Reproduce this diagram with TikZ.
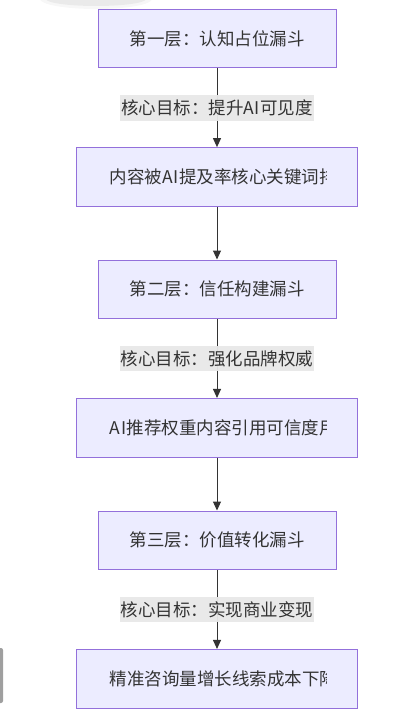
\documentclass[tikz,border=0pt]{standalone}
\usepackage{fontspec}
\setmainfont{Noto Sans CJK SC}
\usetikzlibrary{arrows.meta}
\definecolor{boxfill}{HTML}{ECECFF}
\definecolor{boxline}{HTML}{9370DB}
\definecolor{txt}{HTML}{333333}
\definecolor{lblbg}{HTML}{E8E8E8}
\newcommand{\ai}{A\kern0.6pt I\kern0.6pt}
\tikzset{
  basefont/.style={font=\fontsize{17.5}{20}\selectfont},
  stepbox/.style={draw=boxline, fill=boxfill, line width=1pt, minimum height=58.7pt, inner sep=0pt, text=txt, basefont},
  narrowbox/.style={stepbox, minimum width=238pt},
  widebox/.style={stepbox, minimum width=281pt},
  cliptext/.style={anchor=west, inner sep=0pt, text=txt, basefont},
  flow/.style={draw=txt, line width=1pt, -{Triangle[width=8pt,length=9pt]}},
  lbl/.style={fill=lblbg, fill opacity=0.95, text opacity=1, text=txt, inner xsep=1pt, inner ysep=0pt, minimum height=25.7pt, basefont}
}
\begin{document}
\begin{tikzpicture}[x=1pt,y=-1pt]
\useasboundingbox (0,0) rectangle (418,714);
% faint shadow at top and side bar
\fill[black, opacity=0.05] (96,-1) ellipse [x radius=50, y radius=7];
\fill[black, opacity=0.03] (96,-1) ellipse [x radius=56, y radius=10];
\fill[gray!75, rounded corners=2pt] (-4,648) rectangle (3,703);

\node[narrowbox] (b1) at (217,38.65) {第一层：认知占位漏斗};
\node[widebox]   (b2) at (217,177) {};
\node[narrowbox] (b3) at (217,289.35) {第二层：信任构建漏斗};
\node[widebox]   (b4) at (217,427.8) {};
\node[narrowbox] (b5) at (217,540.35) {第三层：价值转化漏斗};
\node[widebox]   (b6) at (217,678.8) {};

\begin{scope}
  \clip (100,150) rectangle (326.7,204);
  \node[cliptext] (t2) at (109.7,177) {内容被\ai 提及率核心关键词排名};
\end{scope}
\begin{scope}
  \clip (100,400) rectangle (326.7,455);
  \node[cliptext] (t4) at (109.7,427.8) {\ai 推荐权重内容引用可信度用户};
\end{scope}
\begin{scope}
  \clip (100,651) rectangle (326.7,706);
  \node[cliptext] (t6) at (109.7,678.8) {精准咨询量增长线索成本下降};
\end{scope}

\draw[flow] (b1) -- node[lbl] (l1) {核心目标：提升\ai 可见度} (b2);
\draw[flow] (b2) -- (b3);
\draw[flow] (b3) -- node[lbl] (l2) {核心目标：强化品牌权威} (b4);
\draw[flow] (b4) -- (b5);
\draw[flow] (b5) -- node[lbl] (l3) {核心目标：实现商业变现} (b6);
\end{tikzpicture}
\end{document}
